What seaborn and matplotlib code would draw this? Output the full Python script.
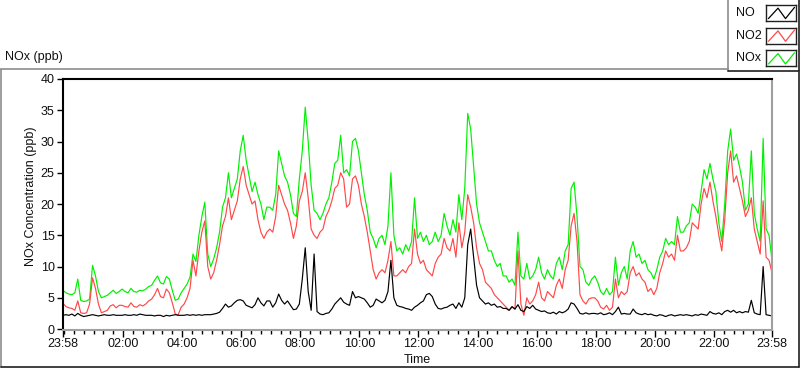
import numpy as np
import pandas as pd
import matplotlib
matplotlib.use("Agg")
import matplotlib.pyplot as plt
from matplotlib.lines import Line2D
import seaborn as sns

# readings every 6 minutes from 23:58 to 23:58 next day (ppb), one row per hour
STEP_MIN = 6

NO = [
    2.2, 2.3, 2.2, 2.4, 2.1, 2.5, 2.2, 2.0, 2.1, 2.2,
    2.3, 2.2, 2.1, 2.2, 2.3, 2.2, 2.2, 2.3, 2.2, 2.2,
    2.2, 2.3, 2.2, 2.2, 2.3, 2.2, 2.4, 2.3, 2.2, 2.2,
    2.2, 2.1, 2.2, 2.2, 2.0, 2.2, 2.1, 2.2, 2.3, 2.2,
    2.2, 2.2, 2.3, 2.2, 2.3, 2.2, 2.3, 2.2, 2.3, 2.3,
    2.3, 2.4, 2.5, 2.7, 3.3, 4.0, 3.5, 3.7, 4.2, 4.6,
    4.7, 4.5, 3.8, 3.6, 3.4, 3.9, 5.0, 4.2, 3.7, 4.5,
    4.5, 3.5, 4.2, 5.6, 4.6, 4.0, 4.5, 3.8, 3.1, 3.2,
    4.0, 8.0, 13.0, 6.0, 3.0, 12.0, 2.8, 2.4, 2.3, 2.5,
    2.6, 3.2, 4.0, 4.5, 5.0, 4.3, 4.0, 3.8, 6.0, 5.0,
    5.2, 5.0, 4.8, 4.2, 3.5, 3.8, 4.8, 4.5, 4.2, 4.6,
    6.0, 11.0, 5.0, 3.8, 3.6, 3.5, 3.3, 3.2, 3.0, 3.5,
    3.8, 4.2, 4.5, 5.5, 5.7, 5.2, 4.0, 3.3, 3.2, 3.4,
    3.5, 3.8, 4.0, 3.3, 4.2, 3.5, 5.0, 13.5, 16.0, 11.5,
    7.0, 5.0, 4.5, 4.0, 4.2, 3.8, 4.0, 3.5, 3.6, 3.3,
    3.3, 3.0, 3.6, 3.2, 3.9, 3.0, 2.8, 3.6, 3.3, 3.8,
    3.2, 3.0, 2.8, 2.9, 2.6, 2.5, 2.7, 2.4, 2.8, 2.6,
    2.8, 3.2, 4.2, 4.0, 3.3, 2.5, 2.4, 2.6, 2.4, 2.5,
    2.5, 2.4, 2.6, 2.3, 2.4, 2.6, 2.3, 2.8, 3.5, 2.4,
    2.5, 2.4, 2.4, 3.2, 2.6, 2.4, 2.3, 2.5, 2.3, 2.4,
    2.2, 2.1, 2.3, 2.2, 2.0, 2.2, 2.3, 2.1, 2.2, 2.3,
    2.2, 2.3, 2.2, 2.1, 2.3, 2.2, 2.4, 2.3, 2.2, 2.8,
    2.5, 2.4, 2.6, 2.3, 2.8, 3.0, 2.7, 3.0, 2.6, 2.8,
    2.6, 2.8, 2.7, 4.6, 2.6, 2.4, 2.3, 10.0, 2.3, 2.2, 2.1,
]

NO2 = [
    4.1, 3.6, 3.4, 3.3, 3.0, 4.5, 2.6, 2.5, 2.6, 4.0,
    8.2, 6.5, 4.0, 2.6, 2.8, 3.0, 3.7, 3.9, 3.4, 3.8,
    3.8, 3.6, 3.5, 4.2, 3.6, 3.5, 3.9, 3.7, 4.0, 4.5,
    4.8, 5.5, 6.5, 5.2, 5.0, 6.4, 5.8, 4.2, 2.4, 2.3,
    3.5, 4.0, 5.0, 6.5, 11.0, 8.5, 12.5, 15.5, 17.3, 10.0,
    8.0, 9.0, 11.0, 13.5, 16.5, 18.0, 21.0, 17.5, 19.0, 20.5,
    24.0, 26.0, 23.0, 21.5, 20.0, 20.5, 17.5, 15.5, 14.5, 15.5,
    16.0, 15.5, 18.0, 23.0, 21.5, 20.0, 19.0, 17.0, 14.5, 16.5,
    20.5, 22.0, 25.0, 21.0, 16.0, 15.0, 14.5, 15.5, 16.0, 18.0,
    19.0, 20.5, 22.5, 23.0, 25.0, 24.0, 19.5, 20.0, 24.0, 24.5,
    23.0, 20.0, 18.0, 15.5, 12.5, 9.5, 8.0, 9.0, 9.5, 9.0,
    11.0, 14.0, 8.5, 8.5, 9.0, 9.5, 9.0, 10.0, 10.5, 16.0,
    12.0, 10.5, 11.0, 9.5, 9.0, 8.5, 10.5, 11.5, 12.0, 14.5,
    13.0, 12.5, 14.5, 11.5, 17.0, 13.0, 15.5, 21.5, 19.5, 17.0,
    13.0, 10.5, 9.5, 7.5, 7.0, 6.5, 5.5, 5.0, 4.5, 4.0,
    3.5, 3.0, 3.5, 3.2, 12.5, 4.0, 2.2, 5.0, 4.0, 4.5,
    5.5, 7.5, 5.0, 4.5, 6.0, 5.5, 5.0, 7.0, 8.0, 6.5,
    9.5, 11.0, 16.5, 18.5, 14.0, 5.5, 4.5, 4.0, 4.8, 5.0,
    5.0, 4.5, 3.5, 3.2, 3.8, 3.0, 3.5, 8.0, 5.0, 6.0,
    5.5, 6.0, 9.0, 10.0, 8.5, 9.0, 8.0, 7.5, 6.0, 6.5,
    5.5, 6.5, 9.0, 10.5, 12.5, 11.5, 12.0, 11.0, 15.0, 12.5,
    12.5, 13.0, 14.0, 17.0, 16.5, 16.0, 20.0, 22.5, 21.0, 23.5,
    20.5, 18.0, 15.0, 12.5, 17.5, 25.0, 28.5, 23.5, 24.5, 22.5,
    20.5, 18.0, 19.0, 21.0, 16.0, 14.0, 12.0, 20.5, 11.5, 11.0, 9.0,
]

NOX = [
    6.2, 5.8, 5.6, 5.5, 5.8, 8.0, 4.6, 4.4, 4.5, 4.8,
    10.2, 8.5, 6.0, 5.0, 5.2, 5.4, 5.8, 6.2, 5.7, 6.0,
    6.4, 6.0, 5.8, 6.5, 6.0, 5.9, 6.2, 6.1, 6.4, 6.8,
    7.0, 7.8, 8.5, 7.4, 7.2, 8.4, 8.0, 6.2, 4.6, 4.8,
    5.8, 6.5, 7.2, 8.3, 12.0, 10.8, 15.0, 18.0, 20.3, 12.0,
    10.0, 11.2, 13.0, 15.5, 19.5, 21.0, 25.0, 21.0, 22.5, 24.0,
    28.5, 31.0, 27.0, 24.5, 22.0, 23.5, 21.5, 20.0, 17.5, 19.5,
    19.5, 19.0, 21.5, 28.5, 26.5, 24.5, 23.5, 21.5, 18.5, 18.0,
    24.0, 28.5, 35.5, 30.0, 23.0, 19.0, 18.5, 17.5, 18.5, 20.0,
    21.0, 23.5, 26.5, 27.0, 31.0, 25.0, 25.5, 24.5, 30.0, 30.5,
    28.5, 25.0, 21.5, 19.0, 15.5, 14.5, 13.0, 14.5, 15.0, 13.5,
    16.5, 25.0, 15.0, 12.5, 13.0, 12.0, 13.5, 12.5, 14.0, 21.0,
    14.5, 15.5, 14.0, 15.0, 13.5, 14.0, 15.5, 14.0, 15.0, 18.5,
    16.5, 15.0, 17.5, 15.5, 21.5, 17.5, 22.5, 34.5, 32.0, 26.0,
    20.0, 17.0, 15.5, 14.0, 12.5, 12.5, 11.0, 10.0, 10.5, 8.5,
    8.5, 7.5, 8.0, 7.0, 15.5, 8.5, 8.0, 10.5, 8.0, 8.5,
    9.5, 11.5, 9.0, 8.0, 9.5, 8.5, 8.0, 10.5, 11.5, 9.5,
    12.5, 13.5, 22.5, 23.5, 18.0, 10.0, 9.5, 7.5, 7.0, 8.0,
    8.5, 7.5, 6.0, 5.5, 6.5, 5.5, 6.0, 11.5, 7.0, 9.0,
    10.0, 8.0, 12.5, 14.0, 11.5, 12.0, 10.5, 11.0, 9.5, 9.0,
    8.0, 9.5, 11.5, 12.5, 14.5, 13.5, 14.0, 13.5, 18.0, 15.5,
    15.5, 16.5, 17.0, 20.0, 19.5, 18.5, 22.0, 25.5, 24.0, 26.5,
    24.0, 22.0, 17.0, 14.0, 20.0, 28.5, 32.0, 27.0, 28.0, 26.0,
    23.5, 19.0, 20.0, 28.5, 18.5, 16.0, 14.0, 30.5, 16.0, 15.0, 11.0,
]

SERIES = ["NOx", "NO2", "NO"]          # draw order: green, red, black on top
COLORS = {"NO": "#000000", "NO2": "#ff4848", "NOx": "#00f000"}
LEGEND_ORDER = ["NO", "NO2", "NOx"]

# x axis: minutes since 23:58, labels at start, every even hour, end
X_TICK_POS = [0, 122, 242, 362, 482, 602, 722, 842, 962, 1082, 1202, 1322, 1440]
X_TICK_LABELS = ["23:58", "02:00", "04:00", "06:00", "08:00", "10:00", "12:00",
                 "14:00", "16:00", "18:00", "20:00", "22:00", "23:58"]
Y_TICKS = [0, 5, 10, 15, 20, 25, 30, 35, 40]

sns.set_theme(style="white")
plt.rcParams['font.family'] = ['Liberation Sans', 'DejaVu Sans']

W, H = 800, 369


def fx(px):
    return px / W


def fy(py):
    return 1 - py / H


minutes = np.arange(len(NO)) * STEP_MIN
df = pd.concat([
    pd.DataFrame({"minutes": minutes, "ppb": NOX, "series": "NOx"}),
    pd.DataFrame({"minutes": minutes, "ppb": NO2, "series": "NO2"}),
    pd.DataFrame({"minutes": minutes, "ppb": NO, "series": "NO"}),
], ignore_index=True)

fig = plt.figure(figsize=(W / 100, H / 100), dpi=100)
fig.patch.set_facecolor("white")

ax = fig.add_axes([fx(63), fy(330), fx(772) - fx(63), fy(79) - fy(330)])
sns.lineplot(data=df, x="minutes", y="ppb", hue="series", hue_order=SERIES,
             palette=COLORS, estimator=None, sort=False, linewidth=0.85,
             legend=False, ax=ax)

ax.set_xlim(0, 1440)
ax.set_ylim(-0.15, 40)
ax.set_xticks(X_TICK_POS)
ax.set_xticklabels(X_TICK_LABELS)
minor = [m for m in range(2, 1440, 20) if m not in X_TICK_POS]
ax.set_xticks(minor, minor=True)
ax.set_yticks(Y_TICKS)
ax.set_xlabel("")
ax.set_ylabel("")

ax.tick_params(axis="x", which="major", length=5, width=1, color="black",
               labelsize=9, pad=1, labelcolor="#101010", bottom=True)
ax.tick_params(axis="x", which="minor", length=3, width=1, color="black", bottom=True)
ax.tick_params(axis="y", which="major", length=4, width=1, color="black",
               labelsize=9, pad=2, labelcolor="#101010", left=True)

for side in ["left", "top"]:
    ax.spines[side].set_color("black")
    ax.spines[side].set_linewidth(1.5)
for side in ["bottom", "right"]:
    ax.spines[side].set_color("#a0a0a0")
    ax.spines[side].set_linewidth(1.5)
ax.grid(False)

# axis captions
fig.text(fx(5), fy(57), "NOx (ppb)", fontsize=9, color="#101010", ha="left", va="center")
fig.text(fx(31), fy(196), "NOx Concentration (ppb)", fontsize=9, color="#101010",
         rotation=90, ha="center", va="center")
fig.text(fx(417), fy(360), "Time", fontsize=9, color="#101010", ha="center", va="center")

# outer panel frame
frame = [((1, 69), (728, 69), "#8c8c8c"), ((1, 69), (1, 367), "#8c8c8c"),
         ((1, 367), (799, 367), "#202020"), ((799, 72), (799, 367), "#202020")]
for (x0, y0), (x1, y1), c in frame:
    fig.add_artist(Line2D([fx(x0), fx(x1)], [fy(y0), fy(y1)], color=c, lw=1.2))

# legend panel
legend_lines = [((728, 0), (728, 71), "#8c8c8c"), ((728, 71), (799, 71), "#202020"),
                ((799, 0), (799, 71), "#202020")]
for (x0, y0), (x1, y1), c in legend_lines:
    fig.add_artist(Line2D([fx(x0), fx(x1)], [fy(y0), fy(y1)], color=c, lw=1.2))

for k, name in enumerate(LEGEND_ORDER):
    top = 5 + 22.7 * k
    fig.text(fx(736), fy(top + 8), name, fontsize=9, color="#101010", ha="left", va="center")
    sw = fig.add_axes([fx(766), fy(top + 16), fx(796) - fx(766), fy(top) - fy(top + 16)])
    sw.plot([0.08, 0.4, 0.65, 0.95], [0.15, 0.8, 0.15, 0.85], color=COLORS[name], lw=0.9)
    sw.set_xlim(0, 1)
    sw.set_ylim(0, 1)
    sw.set_xticks([])
    sw.set_yticks([])
    for side in sw.spines.values():
        side.set_color("#202020")
        side.set_linewidth(1)

fig.savefig("out.png", dpi=100, facecolor="white")
